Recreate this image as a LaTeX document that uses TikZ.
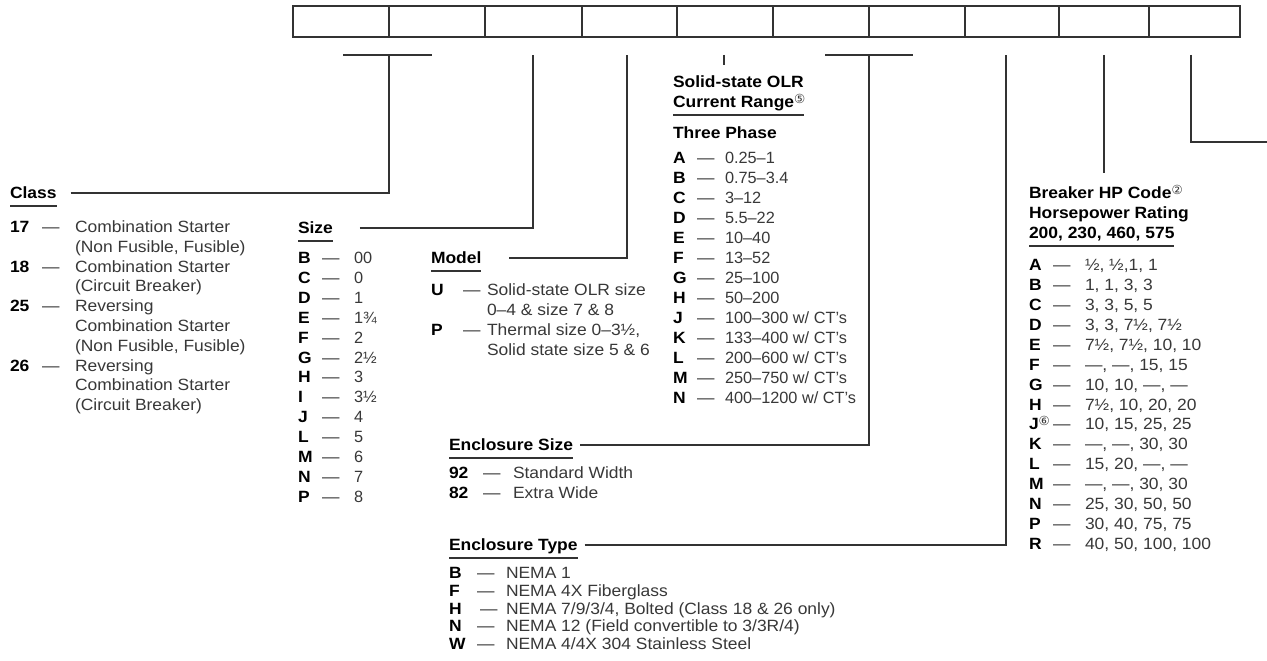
\documentclass[tikz,border=0pt]{standalone}
\usepackage{fontspec}
\setmainfont{Liberation Sans}[FakeStretch=1.07]
\newfontfamily\plainf{Liberation Sans}
\newfontfamily\symf{DejaVu Sans}
\usetikzlibrary{calc}
\definecolor{txt}{HTML}{383838}
\definecolor{ln}{HTML}{333333}
\newcommand{\circnum}[1]{\raisebox{4pt}{\symf\mdseries\fontsize{12.5}{12.5}\selectfont\color{txt}#1}}
\begin{document}
\begin{tikzpicture}[x=1pt,y=-1pt,
  every node/.style={inner sep=0pt, outer sep=0pt, anchor=base west,
    font=\fontsize{16.3}{19}\selectfont, text=txt},
  num/.style={font=\plainf\fontsize{16.3}{19}\selectfont},
  keyf/.style={font=\fontsize{16.3}{19}\selectfont\bfseries, text=black},
  ttl/.style={font=\fontsize{16.3}{19}\selectfont\bfseries, text=black},
  conn/.style={draw=ln, line width=1.3pt},
  uline/.style={draw=ln, line width=1.2pt},
  digit/.style={draw=ln, line width=1.3pt, minimum height=31pt, anchor=north west}]
\useasboundingbox[fill=white] (0,0) rectangle (1267,661);

% code boxes
\foreach \x/\w [count=\i] in {293/96,389/96,485/97,582/95,677/96,773/96,869/96,965/94,1059/90,1149/91}
  \node[digit, minimum width=\w pt] (b\i) at (\x,6) {};

% connector top ends
\coordinate (t1l) at (343,55); \coordinate (t1r) at (432,55); \coordinate (t1) at (389,55);
\coordinate (t3) at (533,55);
\coordinate (t4) at (627,55);
\coordinate (t5) at (724,55); \coordinate (t5b) at (724,65);
\coordinate (t6l) at (825,55); \coordinate (t6r) at (913,55); \coordinate (t6) at (869,55);
\coordinate (t8) at (1006,55);
\coordinate (t9) at (1104,55); \coordinate (t9b) at (1104,173);
\coordinate (t10) at (1191,55); \coordinate (e10) at (1267,142);

% ---------- Class ----------
\node[ttl] (clsT) at (10,198.5) {Class};
\draw[uline] ([yshift=-7.5pt]clsT.base west) -- ([yshift=-7.5pt]clsT.base east);
\draw[conn] (t1l) -- (t1r);
\draw[conn] ([xshift=14pt,yshift=5.5pt]clsT.base east) -| (t1);
\foreach \k/\y in {17/227, 18/266.6, 25/306.2, 26/365.6}{
  \node[keyf] (ck\k) at (10,\y+5.5) {\k};
  \node at (42,\y+5.5) {—};
}
\foreach \t/\y [count=\i] in {Combination Starter/227, {(Non Fusible, Fusible)}/246.8,
   Combination Starter/266.6, (Circuit Breaker)/286.4, Reversing/306.2,
   Combination Starter/326, {(Non Fusible, Fusible)}/345.8, Reversing/365.6,
   Combination Starter/385.4, (Circuit Breaker)/405.2}
  \node (ct\i) at (75,\y+5.5) {\t};

% ---------- Size ----------
\node[ttl] (szT) at (298,233.5) {Size};
\draw[uline] ([yshift=-7.5pt]szT.base west) -- ([yshift=-7.5pt]szT.base east);
\draw[conn] ([xshift=27pt,yshift=5.5pt]szT.base east) -| (t3);
\foreach \k/\v [count=\i from 0] in {B/00,C/0,D/1,E/1¾,F/2,G/2½,H/3,I/3½,J/4,L/5,M/6,N/7,P/8}{
  \node[keyf] (sk\i) at (298,263.5+19.9*\i) {\k};
  \node at (322,263.5+19.9*\i) {—};
  \node[num] (sv\i) at (354,263.5+19.9*\i) {\v};
}

% ---------- Model ----------
\node[ttl] (mdT) at (431,263.5) {Model};
\draw[uline] ([yshift=-7.5pt]mdT.base west) -- ([yshift=-7.5pt]mdT.base east);
\draw[conn] ([xshift=28pt,yshift=5.5pt]mdT.base east) -| (t4);
\node[keyf] (mk1) at (431,295.5) {U}; \node at (463,295.5) {—};
\node (mt1) at (487,295.5) {Solid-state OLR size};
\node (mt2) at (487,315.5) {0–4 \& size 7 \& 8};
\node[keyf] (mk2) at (431,335.5) {P}; \node at (463,335.5) {—};
\node (mt3) at (487,335.5) {Thermal size 0–3½,};
\node (mt4) at (487,355.5) {Solid state size 5 \& 6};

% ---------- Solid-state OLR ----------
\draw[conn] (t5) -- (t5b);
\node[ttl] (olT1) at (673,87.5) {Solid-state OLR};
\node[ttl] (olT2) at (673,107.5) {Current Range\circnum{⑤}};
\draw[uline] ([yshift=-7.5pt]olT2.base west) -- ([yshift=-7.5pt]olT2.base west -| olT1.east);
\node[ttl] (olT3) at (673,138.5) {Three Phase};
\foreach \k/\v [count=\i from 0] in {A/{0.25–1},B/{0.75–3.4},C/{3–12},D/{5.5–22},E/{10–40},F/{13–52},
   G/{25–100},H/{50–200},J/{100–300 w/ CT’s},K/{133–400 w/ CT’s},L/{200–600 w/ CT’s},
   M/{250–750 w/ CT’s},N/{400–1200 w/ CT’s}}{
  \node[keyf] (ok\i) at (673,163.5+20*\i) {\k};
  \node at (697,163.5+20*\i) {—};
  \node[num] (ov\i) at (725,163.5+20*\i) {\v};
}

% ---------- Enclosure Size ----------
\draw[conn] (t6l) -- (t6r);
\node[ttl] (esT) at (449,450.5) {Enclosure Size};
\draw[uline] ([yshift=-7.5pt]esT.base west) -- ([yshift=-7.5pt]esT.base east);
\draw[conn] ([xshift=7pt,yshift=5.5pt]esT.base east) -| (t6);
\node[keyf] (ek1) at (449,478.5) {92}; \node at (483,478.5) {—};
\node (et1) at (513,478.5) {Standard Width};
\node[keyf] (ek2) at (449,498.5) {82}; \node at (483,498.5) {—};
\node (et2) at (513,498.5) {Extra Wide};

% ---------- Enclosure Type ----------
\node[ttl] (etT) at (449,550.5) {Enclosure Type};
\draw[uline] ([yshift=-7.5pt]etT.base west) -- ([yshift=-7.5pt]etT.base east);
\draw[conn] ([xshift=7pt,yshift=5.5pt]etT.base east) -| (t8);
\foreach \k/\v/\d [count=\i from 0] in {B/{NEMA 1}/477, F/{NEMA 4X Fiberglass}/477,
   H/{NEMA 7/9/3/4, Bolted (Class 18 \& 26 only)}/480,
   N/{NEMA 12 (Field convertible to 3/3R/4)}/477, W/{NEMA 4/4X 304 Stainless Steel}/477}{
  \node[keyf] (tk\i) at (449,578.5+17.8*\i) {\k};
  \node at (\d,578.5+17.8*\i) {—};
  \node (tv\i) at (506,578.5+17.8*\i) {\v};
}

% ---------- Breaker HP code ----------
\draw[conn] (t9) -- (t9b);
\node[ttl] (brT1) at (1029,198.5) {Breaker HP Code\circnum{②}};
\node[ttl] (brT2) at (1029,218.5) {Horsepower Rating};
\node[ttl] (brT3) at (1029,238.5) {200, 230, 460, 575};
\draw[uline] ([yshift=-7.5pt]brT3.base west) -- ([yshift=-7.5pt]brT3.base east);
\foreach \k/\v [count=\i from 0] in {A/{½, ½,1, 1}, B/{1, 1, 3, 3}, C/{3, 3, 5, 5},
   D/{3, 3, 7½, 7½}, E/{7½, 7½, 10, 10}, F/{—, —, 15, 15}, G/{10, 10, —, —},
   H/{7½, 10, 20, 20}, J\circnum{⑥}/{10, 15, 25, 25}, K/{—, —, 30, 30},
   L/{15, 20, —, —}, M/{—, —, 30, 30}, N/{25, 30, 50, 50}, P/{30, 40, 75, 75},
   R/{40, 50, 100, 100}}{
  \node[keyf] (hk\i) at (1029,270.5+19.93*\i) {\k};
  \node at (1053,270.5+19.93*\i) {—};
  \node (hv\i) at (1085,270.5+19.93*\i) {\v};
}

% ---------- last digit ----------
\draw[conn] (t10) |- (e10);
\end{tikzpicture}
\end{document}
